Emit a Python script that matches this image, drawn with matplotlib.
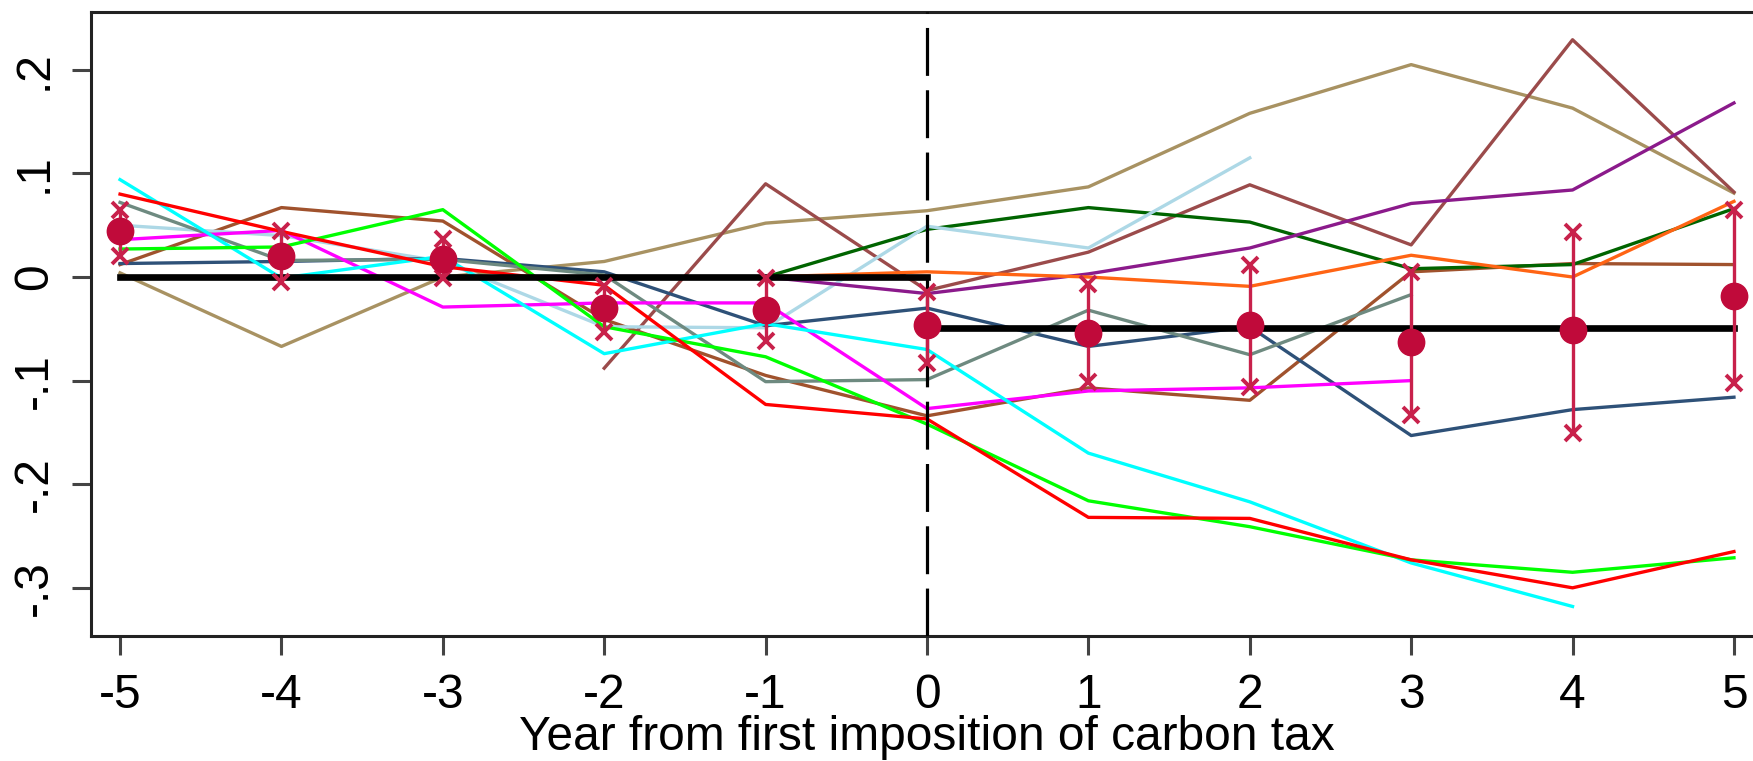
import numpy as np
import matplotlib
matplotlib.use('Agg')
import matplotlib.pyplot as plt

plt.rcParams['font.family'] = ['Liberation Sans', 'DejaVu Sans']

nan = np.nan
years = np.arange(-5, 6)

# individual country series (event time -5 .. 5)
red       = [0.080, 0.044, 0.010, -0.008, -0.123, -0.137, -0.232, -0.233, -0.273, -0.300, -0.265]
lime      = [0.027, 0.029, 0.065, -0.048, -0.077, -0.142, -0.216, -0.241, -0.273, -0.285, -0.271]
cyan      = [0.094, -0.001, 0.020, -0.074, -0.045, -0.070, -0.170, -0.217, -0.276, -0.318, nan]
magenta   = [0.036, 0.045, -0.029, -0.025, -0.025, -0.127, -0.110, -0.107, -0.100, nan, nan]
khaki     = [0.004, -0.067, 0.000, 0.015, 0.052, 0.064, 0.087, 0.158, 0.205, 0.163, 0.081]
sienna    = [0.012, 0.067, 0.054, -0.041, -0.095, -0.134, -0.107, -0.119, 0.005, 0.013, 0.012]
rosy      = [nan, nan, nan, -0.088, 0.090, -0.013, 0.024, 0.089, 0.031, 0.229, 0.082]
darkgreen = [nan, nan, nan, nan, 0.000, 0.046, 0.067, 0.053, 0.008, 0.012, 0.066]
lightblue = [0.050, 0.040, 0.015, -0.048, -0.049, 0.049, 0.028, 0.115, nan, nan, nan]
purple    = [nan, nan, nan, nan, 0.000, -0.016, 0.003, 0.028, 0.071, 0.084, 0.168]
orange    = [nan, nan, nan, nan, 0.000, 0.005, 0.000, -0.009, 0.021, 0.000, 0.073]
slate     = [0.013, 0.015, 0.018, 0.005, -0.047, -0.030, -0.067, -0.048, -0.153, -0.128, -0.116]
graygreen = [0.072, 0.016, 0.017, 0.002, -0.101, -0.099, -0.032, -0.075, -0.017, nan, nan]

# pooled estimate with confidence interval
est    = [0.044, 0.020, 0.017, -0.030, -0.032, -0.046, -0.054, -0.046, -0.063, -0.051, -0.018]
ci_lo  = [0.020, -0.005, -0.001, -0.053, -0.062, -0.083, -0.101, -0.106, -0.133, -0.151, -0.102]
ci_hi  = [0.065, 0.044, 0.037, -0.009, -0.001, -0.014, -0.007, 0.012, 0.005, 0.043, 0.065]

# pre / post means
pre_years, pre_mean = [-5, 0], 0.0
post_years, post_mean = [0, 5], -0.049

yticks = [-0.3, -0.2, -0.1, 0.0, 0.1, 0.2]
ytick_labels = ['-.3', '-.2', '-.1', '0', '.1', '.2']

series = [
    (khaki, '#A89262'), (sienna, '#A0522D'), (rosy, '#9B4B4B'),
    (darkgreen, '#006400'), (lightblue, '#ADD8E6'), (purple, '#8B1A8B'),
    (orange, '#FF6414'), (slate, '#2E5178'), (graygreen, '#6E8A80'),
    (magenta, '#FF00FF'), (cyan, '#00FFFF'), (lime, '#00FF00'), (red, '#FF0000'),
]

fig = plt.figure(figsize=(17.53, 7.61), dpi=100)
ax = fig.add_axes([91 / 1753, 125 / 761, 1672 / 1753, 623.7 / 761])

for vals, col in series:
    ax.plot(years, vals, color=col, lw=2.4, zorder=2)

ax.plot(pre_years, [pre_mean] * 2, color='black', lw=4.8, zorder=3)
ax.plot(post_years, [post_mean] * 2, color='black', lw=4.8, zorder=3)
ax.axvline(0, color='black', lw=2.3, linestyle=(0, (15, 4.5)), zorder=3)

crim = '#C00A3A'
est = np.array(est)
lo = np.array(ci_lo)
hi = np.array(ci_hi)
ax.vlines(years, lo, hi, color='#C8214B', lw=2.4, zorder=4)
ax.plot(years, lo, 'x', color='#C8214B', ms=11, mew=2.8, zorder=4)
ax.plot(years, hi, 'x', color='#C8214B', ms=11, mew=2.8, zorder=4)
ax.plot(years, est, 'o', color=crim, ms=19, zorder=5)

ax.set_xlim(-5.18, 5.18)
ax.set_ylim(-0.3465, 0.2555)
ax.set_xticks(years)
ax.set_xticklabels([str(y) for y in years])
ax.set_yticks(yticks)
ax.set_yticklabels(ytick_labels, rotation=90, va='center')

for s in ax.spines.values():
    s.set_linewidth(2.2)
    s.set_color('#222222')
ax.tick_params(axis='both', which='major', length=13.5, width=2.2, color='#444444',
               labelsize=34.5, pad=13)
ax.tick_params(axis='y', pad=11)

ax.set_xlabel('Year from first imposition of carbon tax', fontsize=34.5, labelpad=-2)

fig.savefig('out.png', dpi=100)
